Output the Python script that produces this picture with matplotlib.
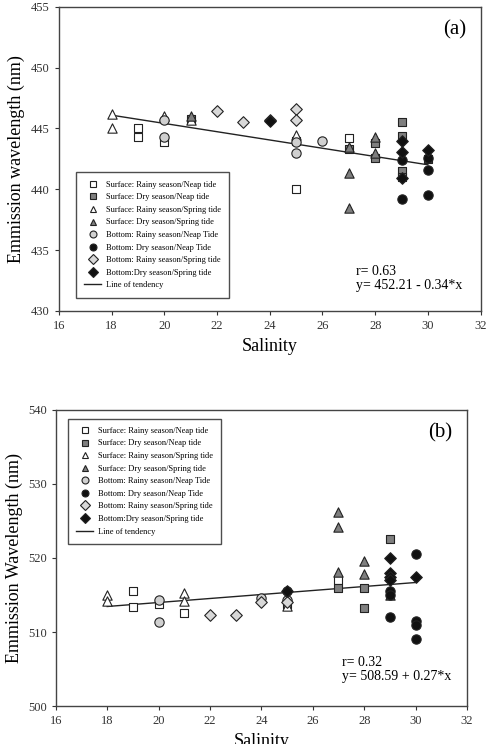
#!/usr/bin/env python3
# Emission wavelength vs salinity, two panels (a) and (b)

import numpy as np
import matplotlib
matplotlib.use("Agg")
import matplotlib.pyplot as plt
from matplotlib.lines import Line2D

plt.rcParams['font.family'] = ['Liberation Serif', 'DejaVu Serif']

labels = ["Surface: Rainy season/Neap tide",
          "Surface: Dry season/Neap tide",
          "Surface: Rainy season/Spring tide",
          "Surface: Dry season/Spring tide",
          "Bottom: Rainy season/Neap Tide",
          "Bottom: Dry season/Neap Tide",
          "Bottom: Rainy season/Spring tide",
          "Bottom:Dry season/Spring tide"]

# panel (a) -- (salinity, wavelength) per group
a_surf_rainy_neap = [(19, 445.0), (19, 444.3), (20, 443.9), (25, 440.0), (25, 444.0), (27, 444.2)]
a_surf_dry_neap = [(21, 445.8), (27, 443.3), (28, 443.8), (28, 442.6), (29, 445.5),
                   (29, 444.4), (29, 441.5), (29, 441.0), (30, 442.5)]
a_surf_rainy_spring = [(18, 446.2), (18, 445.0), (20, 446.0), (25, 444.5), (21, 445.7)]
a_surf_dry_spring = [(27, 441.3), (27, 438.5), (28, 444.3), (28, 443.0), (27, 443.5), (21, 446.0)]
a_bot_rainy_neap = [(20, 445.7), (20, 444.3), (25, 443.9), (25, 443.0), (26, 444.0)]
a_bot_dry_neap = [(29, 439.2), (30, 439.5), (30, 441.6), (29, 442.4), (30, 442.6)]
a_bot_rainy_spring = [(22, 446.4), (23, 445.5), (24, 445.7), (25, 446.6), (25, 445.7)]
a_bot_dry_spring = [(24, 445.6), (29, 444.0), (29, 443.1), (30, 443.2), (29, 440.9)]
a_fit = (452.21, -0.34)
a_r = 0.63

# panel (b)
b_surf_rainy_neap = [(19, 515.6), (19, 513.4), (20, 513.8), (21, 512.6), (27, 517.0)]
b_surf_dry_neap = [(27, 516.0), (28, 516.0), (28, 513.3), (29, 522.5), (25, 513.8)]
b_surf_rainy_spring = [(18, 515.0), (18, 514.2), (21, 515.3), (21, 514.2), (25, 513.5)]
b_surf_dry_spring = [(27, 526.2), (27, 524.2), (27, 518.1), (28, 519.6), (28, 517.8), (29, 515.0)]
b_bot_rainy_neap = [(20, 514.3), (20, 511.3), (24, 514.6), (25, 515.5), (25, 514.3)]
b_bot_dry_neap = [(29, 512.0), (30, 520.5), (30, 511.5), (30, 511.0), (30, 509.0),
                  (29, 515.6), (29, 515.0)]
b_bot_rainy_spring = [(22, 512.3), (23, 512.3), (24, 514.0), (25, 514.0)]
b_bot_dry_spring = [(29, 520.0), (29, 518.0), (29, 517.5), (29, 517.0), (30, 517.5), (25, 515.6)]
b_fit = (508.59, 0.27)
b_r = 0.32

fit_range = (18, 30)

# marker, face colour for each group
styles = [('s', 'white'), ('s', '#7f7f7f'), ('^', 'white'), ('^', '#7f7f7f'),
          ('o', '#d0d0d0'), ('o', '#111111'), ('D', '#d8d8d8'), ('D', '#111111')]
sizes = [40, 40, 45, 45, 45, 45, 35, 35]


def draw_panel(ax, groups, fit, r, ylim, yticks, ylabel, tag, leg_loc, leg_anchor, txt_xy):
    for pts, (m, fc), s in zip(groups, styles, sizes):
        pts = np.array(pts)
        ax.scatter(pts[:, 0], pts[:, 1], marker=m, s=s, facecolor=fc,
                   edgecolor='#222222', linewidth=0.8, zorder=3)
    xs = np.array(fit_range)
    ax.plot(xs, fit[0] + fit[1] * xs, color='#222222', lw=1.0, zorder=2)

    ax.set_xlim(16, 32)
    ax.set_ylim(*ylim)
    ax.set_xticks(np.arange(16, 33, 2))
    ax.set_yticks(yticks)
    ax.tick_params(direction='out', length=3, labelsize=9, colors='#333333')
    for sp in ax.spines.values():
        sp.set_color('#444444')
        sp.set_linewidth(1.0)
    ax.set_ylabel(ylabel, fontsize=13)
    ax.set_xlabel("Salinity", fontsize=13)

    ax.text(0.965, 0.955, tag, transform=ax.transAxes, ha='right', va='top', fontsize=15)
    sign = '-' if fit[1] < 0 else '+'
    ax.text(txt_xy[0], txt_xy[1], "r= %.2f\ny= %.2f %s %.2f*x" % (r, fit[0], sign, abs(fit[1])),
            transform=ax.transAxes, ha='left', va='top', fontsize=10, linespacing=1.1)

    handles = [Line2D([], [], ls='', marker=m, markersize=5, markerfacecolor=fc,
                      markeredgecolor='#222222', markeredgewidth=0.8)
               for m, fc in styles]
    handles.append(Line2D([], [], color='#222222', lw=1.0))
    leg = ax.legend(handles, labels + ["Line of tendency"], loc=leg_loc,
                    bbox_to_anchor=leg_anchor, fontsize=6, frameon=True, fancybox=False,
                    edgecolor='#222222', handlelength=2.0, handletextpad=0.6,
                    labelspacing=0.55, borderpad=1.0)
    leg.get_frame().set_linewidth(1.0)


fig = plt.figure(figsize=(4.9, 7.44), dpi=100)
ax1 = fig.add_axes([0.120, 0.582, 0.861, 0.409])
ax2 = fig.add_axes([0.114, 0.051, 0.839, 0.398])

draw_panel(ax1,
           [a_surf_rainy_neap, a_surf_dry_neap, a_surf_rainy_spring, a_surf_dry_spring,
            a_bot_rainy_neap, a_bot_dry_neap, a_bot_rainy_spring, a_bot_dry_spring],
           a_fit, a_r, (430, 455), np.arange(430, 456, 5),
           "Emmission wavelength (nm)", "(a)", 'lower left', (0.031, 0.03), (0.705, 0.15))

draw_panel(ax2,
           [b_surf_rainy_neap, b_surf_dry_neap, b_surf_rainy_spring, b_surf_dry_spring,
            b_bot_rainy_neap, b_bot_dry_neap, b_bot_rainy_spring, b_bot_dry_spring],
           b_fit, b_r, (500, 540), np.arange(500, 541, 10),
           "Emmission Wavelength (nm)", "(b)", 'upper left', (0.019, 0.985), (0.695, 0.17))

fig.savefig("out.png", dpi=100)
